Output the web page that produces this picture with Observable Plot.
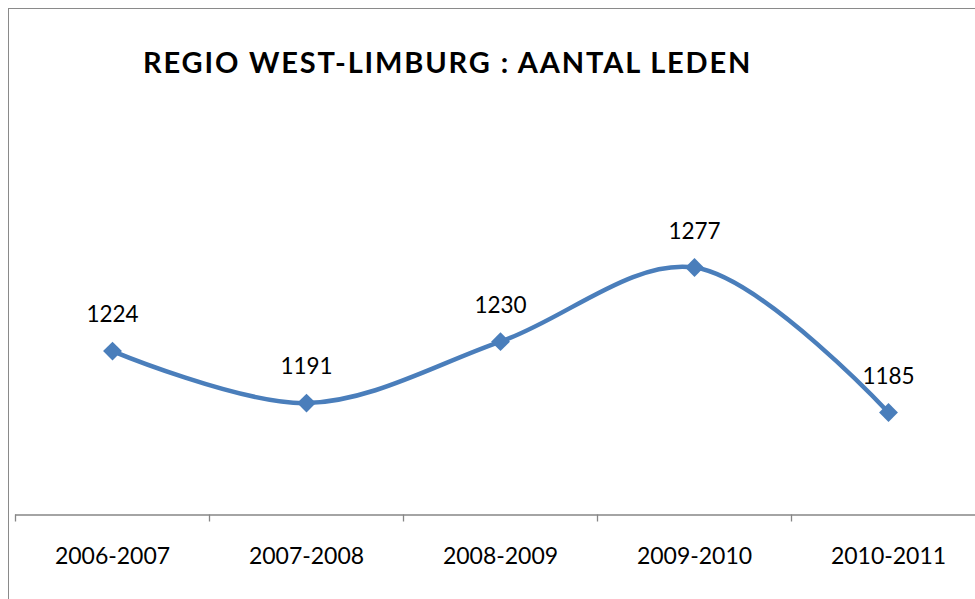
<!DOCTYPE html>
<html>
<head>
<meta charset="utf-8">
<script src="https://cdn.jsdelivr.net/npm/d3@7"></script>
<script src="https://cdn.jsdelivr.net/npm/@observablehq/plot@0.6"></script>
<style>
  html, body { margin: 0; padding: 0; background: #fff; }
  #wrap { position: relative; width: 975px; height: 599px; overflow: hidden; font-family: Lato, "Open Sans", sans-serif; }
  #border { position: absolute; left: 8px; top: 8px; width: 1100px; height: 800px; border: 1.5px solid #8a8a8a; box-sizing: border-box; }
  #title { position: absolute; left: 143px; top: 44px; font-size: 29px; font-weight: bold; color: #000; white-space: nowrap; letter-spacing: 1.85px; }
  #chart { position: absolute; left: 0; top: 0; }
</style>
</head>
<body>
<div id="wrap">
  <div id="border"></div>
  <div id="chart"></div>
  <div id="title">REGIO WEST-LIMBURG : AANTAL LEDEN</div>
</div>
<script>
const seasons = ["2006-2007", "2007-2008", "2008-2009", "2009-2010", "2010-2011"];
const members = [1224, 1191, 1230, 1277, 1185];
const yMin = 1120;
const yMax = 1300;

const data = seasons.map((s, i) => ({season: s, value: members[i]}));

const xRange = [15, 985];
const bandHalf = (xRange[1] - xRange[0]) / seasons.length / 2;
const blue = "#4a7ebb";
const gray = "#868686";
const font = "Lato, 'Open Sans', sans-serif";

const chart = Plot.plot({
  width: 975,
  height: 599,
  marginLeft: 15,
  marginRight: 0,
  marginTop: 230.8,
  marginBottom: 84.5,
  style: {fontFamily: font, background: "transparent", overflow: "visible"},
  x: {type: "band", domain: seasons, range: xRange, padding: 0, axis: null},
  y: {domain: [yMin, yMax], axis: null},
  marks: [
    Plot.axisX({tickSize: 7, tickFormat: () => "", dx: -bandHalf, stroke: gray, strokeWidth: 1.3, label: null}),
    Plot.ruleY([yMin], {stroke: gray, strokeWidth: 1.3}),
    Plot.text(seasons, {x: d => d, y: () => yMin, dy: 42, fontSize: 23, fill: "#000", textAnchor: "middle"}),
    Plot.line(data, {x: "season", y: "value", curve: "catmull-rom", stroke: blue, strokeWidth: 4.5, strokeLinecap: "round"}),
    Plot.dot(data, {x: "season", y: "value", symbol: "diamond2", r: 8.5, fill: blue, stroke: "none"}),
    Plot.text(data, {x: "season", y: "value", text: d => String(d.value), dy: -36, fontSize: 22.5, fill: "#000"})
  ]
});
document.getElementById("chart").appendChild(chart);
</script>
</body>
</html>
